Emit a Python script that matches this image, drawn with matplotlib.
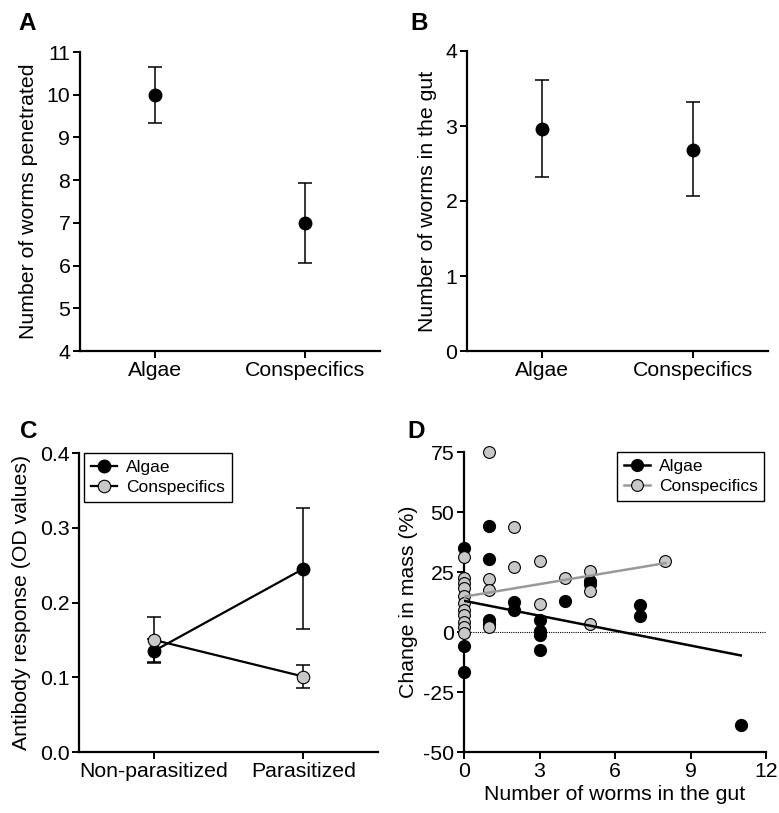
import matplotlib
matplotlib.use("Agg")
import matplotlib.pyplot as plt
import numpy as np
from matplotlib.lines import Line2D

plt.rcParams['font.family'] = ['Liberation Sans', 'DejaVu Sans']
plt.rcParams['axes.unicode_minus'] = False

# ---------------- data ----------------
groups_ab = ["Algae", "Conspecifics"]
a_mean = [10.0, 7.0]
a_low = [9.34, 6.05]
a_high = [10.66, 7.94]

b_mean = [2.96, 2.68]
b_low = [2.32, 2.06]
b_high = [3.61, 3.32]

c_categories = ["Non-parasitized", "Parasitized"]
c_algae_mean = [0.135, 0.245]
c_algae_low = [0.119, 0.165]
c_algae_high = [0.151, 0.326]
c_consp_mean = [0.150, 0.101]
c_consp_low = [0.120, 0.085]
c_consp_high = [0.180, 0.117]

d_algae_x = [0, 0, 0, 1, 1, 1, 1, 2, 2, 3, 3, 3, 3, 4, 5, 5, 7, 7, 11]
d_algae_y = [35, -6, -16.5, 44, 30.6, 5, 3.5, 12.4, 9.1, 5.2, 0.5, -1.2, -7.7,
             12.9, 21.3, 19.8, 11.2, 6.6, -38.9]
d_consp_x = [0, 0, 0, 0, 0, 0, 0, 0, 0, 0, 0, 1, 1, 1, 1, 2, 2, 3, 3, 4, 5, 5, 5, 8]
d_consp_y = [31.3, 22.5, 20.4, 18.3, 14.8, 12, 9.2, 7.1, 4.3, 2.2, -0.3,
             74.8, 22, 17.5, 2, 43.9, 27.1, 29.6, 11.7, 22.4, 25.4, 17.1, 3.4, 29.6]
d_algae_fit = (13.0, -2.07)   # intercept, slope
d_consp_fit = (14.7, 1.75)

GRAY = "#c8c8c8"
LINEGRAY = "#999999"

W, H = 779, 813
fig = plt.figure(figsize=(W / 100, H / 100), dpi=100)


def ax_px(l, r, t, b):
    return fig.add_axes([l / W, (H - b) / H, (r - l) / W, (b - t) / H])


def style(ax):
    for s in ["top", "right"]:
        ax.spines[s].set_visible(False)
    for s in ["left", "bottom"]:
        ax.spines[s].set_linewidth(1.6)
    ax.tick_params(direction="out", length=5, width=1.4, labelsize=15.3, pad=2)


def errpoints(ax, x, mean, low, high, color="black"):
    x = np.asarray(x, float)
    mean = np.asarray(mean)
    yerr = [mean - np.asarray(low), np.asarray(high) - mean]
    ax.errorbar(x, mean, yerr=yerr, fmt="none", ecolor="black", elinewidth=1.1,
                capsize=5, capthick=1.1, zorder=2)


# ---------------- A ----------------
axA = ax_px(80, 380, 52, 351)
style(axA)
xa = np.arange(len(groups_ab))
errpoints(axA, xa, a_mean, a_low, a_high)
axA.plot(xa, a_mean, "o", color="black", ms=9, zorder=3)
axA.set_xlim(-0.5, 1.5)
axA.set_ylim(4, 11)
axA.set_yticks(range(4, 12))
axA.set_xticks(xa)
axA.set_xticklabels(groups_ab)
axA.set_ylabel("Number of worms penetrated", fontsize=15.3, labelpad=6)

# ---------------- B ----------------
axB = ax_px(467, 768, 51, 351)
style(axB)
errpoints(axB, xa, b_mean, b_low, b_high)
axB.plot(xa, b_mean, "o", color="black", ms=9, zorder=3)
axB.set_xlim(-0.5, 1.5)
axB.set_ylim(0, 4)
axB.set_yticks(range(0, 5))
axB.set_xticks(xa)
axB.set_xticklabels(groups_ab)
axB.set_ylabel("Number of worms in the gut", fontsize=15.3, labelpad=6)

# ---------------- C ----------------
axC = ax_px(79, 378, 453, 752)
style(axC)
xc = np.arange(len(c_categories))
errpoints(axC, xc, c_algae_mean, c_algae_low, c_algae_high)
errpoints(axC, xc, c_consp_mean, c_consp_low, c_consp_high)
axC.plot(xc, c_algae_mean, "-", color="black", lw=1.6, zorder=2.5)
axC.plot(xc, c_consp_mean, "-", color="black", lw=1.6, zorder=2.5)
axC.plot(xc, c_algae_mean, "o", color="black", ms=9, zorder=3)
axC.plot(xc, c_consp_mean, "o", mfc=GRAY, mec="black", mew=0.8, ms=9, zorder=4)
axC.set_xlim(-0.5, 1.5)
axC.set_ylim(0, 0.4)
axC.set_yticks([0.0, 0.1, 0.2, 0.3, 0.4])
axC.set_yticklabels(["0.0", "0.1", "0.2", "0.3", "0.4"])
axC.set_xticks(xc)
axC.set_xticklabels(c_categories)
axC.set_ylabel("Antibody response (OD values)", fontsize=15.3, labelpad=6)
hC = [Line2D([], [], color="black", lw=1.6, marker="o", ms=9, mfc="black", mec="black"),
      Line2D([], [], color="black", lw=1.6, marker="o", ms=9, mfc=GRAY, mec="black", mew=0.8)]
legC = axC.legend(hC, ["Algae", "Conspecifics"], loc="upper left",
                  bbox_to_anchor=(0.017, 1.0), borderaxespad=0, fontsize=12.5,
                  handlelength=1.5, handletextpad=0.5, labelspacing=0.3,
                  fancybox=False, framealpha=1, edgecolor="black", borderpad=0.4)
legC.get_frame().set_linewidth(1.0)

# ---------------- D ----------------
axD = ax_px(464, 766, 452, 752)
style(axD)
axD.axhline(0, color="black", lw=0.8, ls=(0, (1, 1)), zorder=1)
axD.plot(d_algae_x, d_algae_y, "o", color="black", ms=8.5, zorder=3, clip_on=False)
axD.plot(d_consp_x, d_consp_y, "o", mfc=GRAY, mec="black", mew=0.8, ms=8.5,
         zorder=4, clip_on=False)
xfa = np.array([0, max(d_algae_x)])
xfc = np.array([0, max(d_consp_x)])
axD.plot(xfa, d_algae_fit[0] + d_algae_fit[1] * xfa, color="black", lw=1.8, zorder=5)
axD.plot(xfc, d_consp_fit[0] + d_consp_fit[1] * xfc, color=LINEGRAY, lw=1.8, zorder=5)
axD.set_xlim(0, 12)
axD.set_ylim(-50, 75)
axD.set_xticks([0, 3, 6, 9, 12])
axD.set_yticks([-50, -25, 0, 25, 50, 75])
axD.set_xlabel("Number of worms in the gut", fontsize=15.3, labelpad=3)
axD.set_ylabel("Change in mass (%)", fontsize=15.3, labelpad=4)
hD = [Line2D([], [], color="black", lw=1.8, marker="o", ms=8.5, mfc="black", mec="black"),
      Line2D([], [], color=LINEGRAY, lw=1.8, marker="o", ms=8.5, mfc=GRAY, mec="black", mew=0.8)]
legD = axD.legend(hD, ["Algae", "Conspecifics"], loc="upper right",
                  bbox_to_anchor=(0.995, 1.0), borderaxespad=0, fontsize=12.5,
                  handlelength=1.5, handletextpad=0.5, labelspacing=0.3,
                  fancybox=False, framealpha=1, edgecolor="black", borderpad=0.4)
legD.get_frame().set_linewidth(1.0)

# panel letters
for lab, x, y in [("A", 18, 24), ("B", 410, 24), ("C", 20, 431), ("D", 407, 431)]:
    fig.text(x / W, 1 - y / H, lab, fontsize=17.5, fontweight="bold", va="center", ha="left")

fig.savefig("out.png", dpi=100)
